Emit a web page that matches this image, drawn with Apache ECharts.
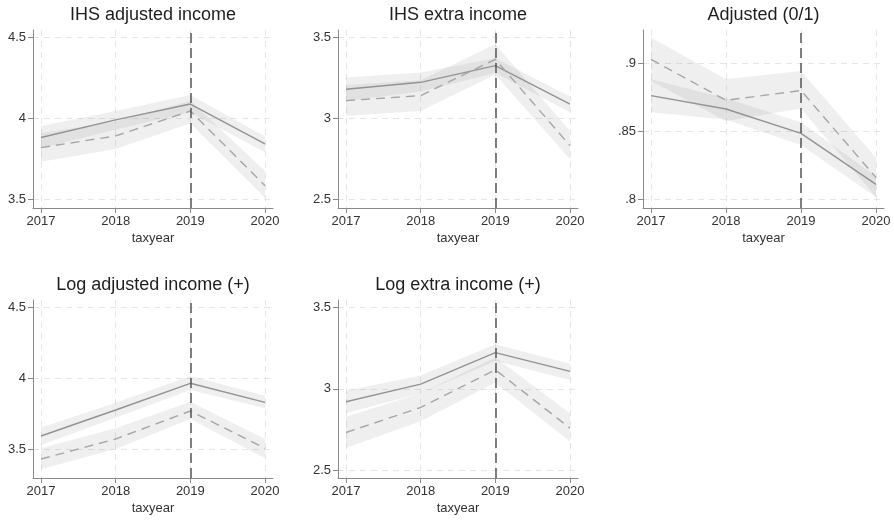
<!DOCTYPE html>
<html>
<head>
<meta charset="utf-8">
<title>Income outcomes by tax year</title>
<script src="https://cdn.jsdelivr.net/npm/echarts@6/dist/echarts.min.js"></script>
<style>
  html, body { margin: 0; padding: 0; background: #ffffff; }
  #chart { width: 894px; height: 521px; }
</style>
</head>
<body>
<div id="chart"></div>
<script>
// ---- data -------------------------------------------------------------
const years = [2017, 2018, 2019, 2020];
const eventYear = 2019;

const panelTitles = [
  'IHS adjusted income',
  'IHS extra income',
  'Adjusted (0/1)',
  'Log adjusted income (+)',
  'Log extra income (+)'
];

// y-axis tick values per panel
const ticksIhsAdj = [3.5, 4, 4.5];
const ticksIhsExtra = [2.5, 3, 3.5];
const ticksAdjusted = [0.8, 0.85, 0.9];
const ticksLogAdj = [3.5, 4, 4.5];
const ticksLogExtra = [2.5, 3, 3.5];

// IHS adjusted income
const ihsAdjSolid   = [3.881, 3.990, 4.088, 3.842];
const ihsAdjSolidLo = [3.815, 3.930, 4.037, 3.790];
const ihsAdjSolidHi = [3.953, 4.045, 4.144, 3.887];
const ihsAdjDash    = [3.819, 3.891, 4.045, 3.584];
const ihsAdjDashLo  = [3.732, 3.810, 3.969, 3.510];
const ihsAdjDashHi  = [3.907, 3.980, 4.107, 3.675];

// IHS extra income
const ihsExtraSolid   = [3.179, 3.222, 3.325, 3.088];
const ihsExtraSolidLo = [3.107, 3.165, 3.280, 3.037];
const ihsExtraSolidHi = [3.251, 3.282, 3.370, 3.134];
const ihsExtraDash    = [3.109, 3.140, 3.364, 2.831];
const ihsExtraDashLo  = [3.016, 3.045, 3.270, 2.747];
const ihsExtraDashHi  = [3.206, 3.235, 3.457, 2.922];

// Adjusted (0/1)
const adjSolid   = [0.8762, 0.8664, 0.8485, 0.8110];
const adjSolidLo = [0.8640, 0.8585, 0.8400, 0.8015];
const adjSolidHi = [0.8882, 0.8743, 0.8566, 0.8167];
const adjDash    = [0.9029, 0.8728, 0.8800, 0.8160];
const adjDashLo  = [0.8870, 0.8576, 0.8667, 0.8017];
const adjDashHi  = [0.9189, 0.8882, 0.8944, 0.8306];

// Log adjusted income (+)
const logAdjSolid   = [3.592, 3.776, 3.965, 3.830];
const logAdjSolidLo = [3.528, 3.722, 3.917, 3.788];
const logAdjSolidHi = [3.653, 3.828, 4.017, 3.877];
const logAdjDash    = [3.429, 3.571, 3.769, 3.505];
const logAdjDashLo  = [3.356, 3.500, 3.712, 3.434];
const logAdjDashHi  = [3.505, 3.646, 3.835, 3.571];

// Log extra income (+)
const logExtraSolid   = [2.920, 3.029, 3.223, 3.107];
const logExtraSolidLo = [2.850, 2.973, 3.172, 3.055];
const logExtraSolidHi = [2.988, 3.082, 3.275, 3.154];
const logExtraDash    = [2.731, 2.885, 3.117, 2.758];
const logExtraDashLo  = [2.635, 2.800, 3.039, 2.676];
const logExtraDashHi  = [2.828, 2.973, 3.193, 2.850];

// ---- layout -----------------------------------------------------------
const panels = [
  { grid: { left: 33,  top: 30,  width: 240, height: 178 }, yMin: 3.446, yMax: 4.545, ticks: ticksIhsAdj,
    solid: ihsAdjSolid, solidLo: ihsAdjSolidLo, solidHi: ihsAdjSolidHi,
    dash: ihsAdjDash, dashLo: ihsAdjDashLo, dashHi: ihsAdjDashHi },
  { grid: { left: 338, top: 30,  width: 240, height: 178 }, yMin: 2.446, yMax: 3.545, ticks: ticksIhsExtra,
    solid: ihsExtraSolid, solidLo: ihsExtraSolidLo, solidHi: ihsExtraSolidHi,
    dash: ihsExtraDash, dashLo: ihsExtraDashLo, dashHi: ihsExtraDashHi },
  { grid: { left: 643, top: 30,  width: 241, height: 178 }, yMin: 0.7936, yMax: 0.9245, ticks: ticksAdjusted,
    solid: adjSolid, solidLo: adjSolidLo, solidHi: adjSolidHi,
    dash: adjDash, dashLo: adjDashLo, dashHi: adjDashHi },
  { grid: { left: 33,  top: 300, width: 240, height: 178 }, yMin: 3.2948, yMax: 4.5545, ticks: ticksLogAdj,
    solid: logAdjSolid, solidLo: logAdjSolidLo, solidHi: logAdjSolidHi,
    dash: logAdjDash, dashLo: logAdjDashLo, dashHi: logAdjDashHi },
  { grid: { left: 338, top: 300, width: 240, height: 178 }, yMin: 2.4507, yMax: 3.547, ticks: ticksLogExtra,
    solid: logExtraSolid, solidLo: logExtraSolidLo, solidHi: logExtraSolidHi,
    dash: logExtraDash, dashLo: logExtraDashLo, dashHi: logExtraDashHi }
];

const FONT = 'Liberation Sans, Arial, Helvetica, sans-serif';
const AXIS_COLOR = '#8a8a8a';
const TEXT_COLOR = '#333333';
const GRID_LINE = { color: '#e6e6e6', width: 1, type: [6, 5] };
const BAND_FILL = 'rgba(128,128,128,0.13)';
const xPad = 0.107;

function tickText(v) {
  return String(+v.toFixed(3)).replace(/^0\./, '.');
}

// confidence band polygon drawn through the grid's coordinate system
function bandSeries(idx, lo, hi) {
  return {
    type: 'custom',
    xAxisIndex: idx,
    yAxisIndex: idx,
    silent: true,
    z: 1,
    clip: true,
    data: years.map((y, i) => [y, lo[i], hi[i]]),
    renderItem: function (params, api) {
      if (params.dataIndex !== 0) return null;
      const upper = years.map((y, i) => api.coord([y, hi[i]]));
      const lower = years.map((y, i) => api.coord([y, lo[i]])).reverse();
      return {
        type: 'polygon',
        shape: { points: upper.concat(lower) },
        style: { fill: BAND_FILL, stroke: null }
      };
    }
  };
}

const grids = [], xAxes = [], yAxes = [], series = [], titles = [];

panels.forEach((p, idx) => {
  grids.push(Object.assign({ containLabel: false }, p.grid));

  titles.push({
    text: panelTitles[idx],
    left: p.grid.left + p.grid.width / 2,
    top: p.grid.top - 25,
    textAlign: 'center',
    padding: 0,
    textStyle: { fontFamily: FONT, fontSize: 18, fontWeight: 'normal', color: '#1e1e1e', lineHeight: 20 }
  });

  xAxes.push({
    gridIndex: idx,
    type: 'value',
    min: years[0] - xPad,
    max: years[years.length - 1] + xPad,
    name: 'taxyear',
    nameLocation: 'middle',
    nameGap: 24,
    nameTextStyle: { fontFamily: FONT, fontSize: 13, color: TEXT_COLOR },
    axisLine: { show: true, onZero: false, lineStyle: { color: AXIS_COLOR, width: 1 } },
    axisTick: { show: true, length: 5, customValues: years, lineStyle: { color: AXIS_COLOR } },
    axisLabel: { customValues: years, margin: 7, fontFamily: FONT, fontSize: 13, color: TEXT_COLOR,
                 formatter: v => String(v) },
    splitLine: { show: true, lineStyle: GRID_LINE }
  });

  yAxes.push({
    gridIndex: idx,
    type: 'value',
    min: p.yMin,
    max: p.yMax,
    axisLine: { show: true, onZero: false, lineStyle: { color: AXIS_COLOR, width: 1 } },
    axisTick: { show: true, length: 5, customValues: p.ticks, lineStyle: { color: AXIS_COLOR } },
    axisLabel: { customValues: p.ticks, margin: 7, fontFamily: FONT, fontSize: 13, color: TEXT_COLOR,
                 formatter: v => tickText(v) },
    splitLine: { show: true, lineStyle: GRID_LINE }
  });

  series.push(bandSeries(idx, p.solidLo, p.solidHi));
  series.push(bandSeries(idx, p.dashLo, p.dashHi));

  series.push({
    type: 'line',
    xAxisIndex: idx,
    yAxisIndex: idx,
    data: years.map((y, i) => [y, p.solid[i]]),
    showSymbol: false,
    symbol: 'none',
    silent: true,
    z: 3,
    lineStyle: { color: '#939393', width: 1.4, type: 'solid' },
    markLine: {
      silent: true,
      symbol: ['none', 'none'],
      label: { show: false },
      lineStyle: { color: '#555555', width: 1.5, type: [10, 5] },
      data: [{ xAxis: eventYear }],
      z: 5
    }
  });

  series.push({
    type: 'line',
    xAxisIndex: idx,
    yAxisIndex: idx,
    data: years.map((y, i) => [y, p.dash[i]]),
    showSymbol: false,
    symbol: 'none',
    silent: true,
    z: 3,
    lineStyle: { color: '#a6a6a6', width: 1.4, type: [9, 6] }
  });
});

const chart = echarts.init(document.getElementById('chart'), null, { renderer: 'canvas' });
chart.setOption({
  animation: false,
  backgroundColor: '#ffffff',
  title: titles,
  grid: grids,
  xAxis: xAxes,
  yAxis: yAxes,
  series: series
});
</script>
</body>
</html>
